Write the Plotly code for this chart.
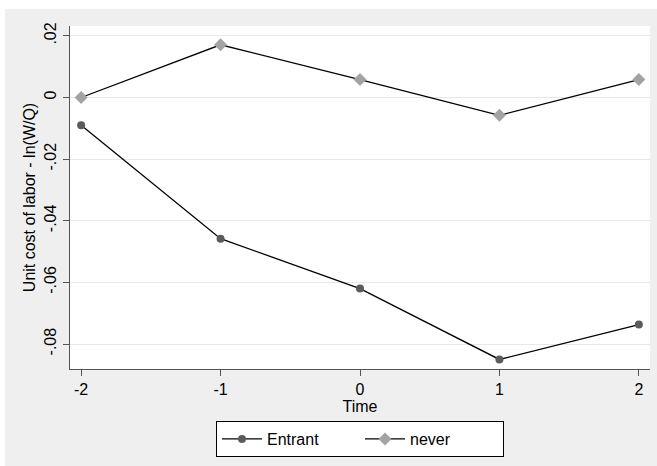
import plotly.graph_objects as go

time = [-2, -1, 0, 1, 2]
entrant = [-0.009, -0.0458, -0.062, -0.085, -0.0737]
never = [0.0, 0.0171, 0.0058, -0.0058, 0.0058]
ytick_vals = [0.02, 0.0, -0.02, -0.04, -0.06, -0.08]
ytick_text = [".02", "0", "-.02", "-.04", "-.06", "-.08"]
xtick_vals = [-2, -1, 0, 1, 2]
xtick_text = ["-2", "-1", "0", "1", "2"]

W, H = 657, 466
L, R, T, B = 70, 7, 26, 97
pw, ph = W - L - R, H - T - B

def px(x):
    return (x - L) / pw

def py(y):
    return (H - B - y) / ph

fig = go.Figure()
fig.add_trace(go.Scatter(
    x=time, y=entrant, name="Entrant", mode="lines+markers",
    line=dict(color="black", width=1.3),
    marker=dict(symbol="circle", size=8, color="#5b5b5b"),
))
fig.add_trace(go.Scatter(
    x=time, y=never, name="never", mode="lines+markers",
    line=dict(color="black", width=1.3),
    marker=dict(symbol="diamond", size=10, color="#a3a3a3"),
))

font = "Liberation Sans, Arial, sans-serif"
fig.update_layout(
    width=W, height=H,
    margin=dict(l=L, r=R, t=T, b=B, pad=0),
    paper_bgcolor="#efefef",
    plot_bgcolor="white",
    font=dict(family=font, size=16, color="black"),
    showlegend=True,
    legend=dict(
        orientation="h", x=0.5, xanchor="center", y=py(421), yanchor="top",
        bgcolor="white", bordercolor="black", borderwidth=1,
        font=dict(size=16), itemwidth=40, traceorder="normal",
        entrywidth=88, entrywidthmode="pixels",
    ),
    xaxis=dict(
        range=[-2.08, 2.08], tickvals=xtick_vals, ticktext=xtick_text,
        showgrid=False, zeroline=False, showline=True, linecolor="#555",
        linewidth=1.3, ticks="outside", ticklen=6, tickcolor="#555",
        title=dict(text="Time", standoff=0, font=dict(size=16)),
        tickfont=dict(size=16),
    ),
    yaxis=dict(
        range=[-0.0881, 0.0232], tickvals=ytick_vals, ticktext=ytick_text,
        tickangle=-90, showgrid=True, gridcolor="#e8e8e8", gridwidth=1,
        zeroline=False, showline=True, linecolor="#555", linewidth=1.3,
        ticks="outside", ticklen=6, tickcolor="#555",
        title=dict(text="Unit cost of labor - ln(W/Q)", standoff=2, font=dict(size=16)),
        tickfont=dict(size=16),
    ),
    shapes=[
        dict(type="rect", xref="paper", yref="paper",
             x0=px(0), x1=px(W), y0=py(9), y1=py(0) + 0.01,
             fillcolor="white", line=dict(width=0), layer="below"),
        dict(type="rect", xref="paper", yref="paper",
             x0=px(0) - 0.01, x1=px(5), y0=py(H) - 0.01, y1=py(0) + 0.01,
             fillcolor="white", line=dict(width=0), layer="below"),
    ],
)

fig.write_html("out.html")
